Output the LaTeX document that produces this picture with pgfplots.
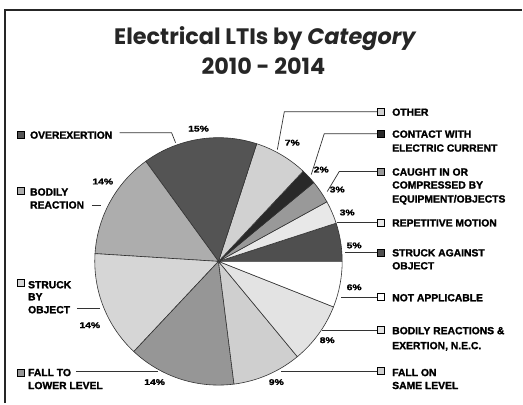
\documentclass[border=0pt]{standalone}
\usepackage{pgfplots}
\pgfplotsset{compat=1.18}
\usepackage{pgfplotstable}
\usepackage{fontspec}
\setmainfont{Liberation Sans}
\newfontfamily\titlefont{Poppins}
\newfontfamily\heavyfont[FakeBold=1.6]{Liberation Sans Bold}

% slices counterclockwise from east: percent and darkness (black!n)
\pgfplotstableread{
pct dark
5  69
3  9
3  40
2  84
7  18
15 67
14 32
14 16
14 41
9  19
8  11
6  0
}\pietable

\newcommand\labelfont{\heavyfont\fontsize{10.4}{13}\selectfont}
\newcommand\pctfont{\heavyfont\fontsize{8.3}{10}\selectfont}
\newcommand\lbl[3]{\node[anchor=base west, font=\labelfont, inner sep=0pt] at (axis cs:#1,#2) {#3};}
\newcommand\pct[3]{\node[font=\pctfont, xscale=1.25, inner sep=0pt] at (axis cs:#1,#2) {#3\%};}
\newcommand\key[3]{\draw[fill=black!#3, draw=black, line width=0.7bp] (axis cs:#1-3.5,#2-3.5) rectangle (axis cs:#1+3.5,#2+3.5);}

\begin{document}
\begin{tikzpicture}
\begin{axis}[
    hide axis,
    scale only axis,
    width=523bp, height=404bp,
    xmin=0, xmax=523, ymin=0, ymax=404,
    y dir=reverse,
    clip=false,
]
\path (axis cs:0,0) rectangle (axis cs:523,404);

% frame
\draw[black!85, line width=2.5bp] (axis cs:5,404) -- (axis cs:5,10) -- (axis cs:523,10);

% title
\node[font=\titlefont\bfseries\fontsize{22.5}{26}\selectfont, anchor=base, text=black!85]
  at (axis cs:266,45) {Electrical LTIs by \textit{Category}};
\node[font=\titlefont\bfseries\fontsize{22.5}{26}\selectfont, anchor=base, text=black!85]
  at (axis cs:264,75) {2010 - 2014};

% pie
\def\angA{0}
\pgfplotsinvokeforeach{0,...,11}{%
  \pgfplotstablegetelem{#1}{pct}\of\pietable \let\pval\pgfplotsretval
  \pgfplotstablegetelem{#1}{dark}\of\pietable \let\pdark\pgfplotsretval
  \pgfmathsetmacro\angB{\angA+3.6*\pval}
  \edef\temp{\noexpand\fill[black!\pdark, draw=black!80, line width=0.6bp]
    (axis cs:219,262) -- ++(\angA:124bp) arc[start angle=\angA, end angle=\angB, radius=124bp] -- cycle;}
  \temp
  \global\let\angA\angB
}

% leader lines
\begin{scope}[black!80, line width=0.7bp]
\draw (axis cs:120,133) -- (axis cs:172,133) -- (axis cs:176,143);
\draw (axis cs:92,206) -- (axis cs:101,206);
\draw (axis cs:77,309) -- (axis cs:100,309);
\draw (axis cs:76,372) -- (axis cs:158,372);
\draw (axis cs:378,112) -- (axis cs:285,112) -- (axis cs:278,150);
\draw (axis cs:378,134) -- (axis cs:325,134) -- (axis cs:312,175);
\draw (axis cs:378,172) -- (axis cs:340,172) -- (axis cs:328,192);
\draw (axis cs:378,223) -- (axis cs:338,223);
\draw (axis cs:378,253) -- (axis cs:346,253);
\draw (axis cs:378,298) -- (axis cs:342,298);
\draw (axis cs:378,331) -- (axis cs:323,331);
\draw (axis cs:378,372) -- (axis cs:282,372);
\end{scope}

% legend keys
\key{21}{135}{67}
\key{21}{191}{32}
\key{21}{284}{16}
\key{21}{374}{41}
\key{382}{112}{18}
\key{382}{134}{84}
\key{382}{172}{40}
\key{382}{223}{9}
\key{382}{253}{69}
\key{382}{298}{0}
\key{382}{331}{11}
\key{382}{372}{19}

% labels
\lbl{30}{139}{OVEREXERTION}
\lbl{30}{196}{BODILY}
\lbl{30}{209}{REACTION}
\lbl{28}{289}{STRUCK}
\lbl{28}{301}{BY}
\lbl{28}{314}{OBJECT}
\lbl{28}{377}{FALL TO}
\lbl{28}{390}{LOWER LEVEL}
\lbl{393}{116}{OTHER}
\lbl{393}{138}{CONTACT WITH}
\lbl{393}{152}{ELECTRIC CURRENT}
\lbl{393}{176}{CAUGHT IN OR}
\lbl{393}{189}{COMPRESSED BY}
\lbl{393}{203}{EQUIPMENT/OBJECTS}
\lbl{393}{227}{REPETITIVE MOTION}
\lbl{393}{257}{STRUCK AGAINST}
\lbl{393}{270}{OBJECT}
\lbl{393}{302}{NOT APPLICABLE}
\lbl{393}{335}{BODILY REACTIONS \&}
\lbl{393}{350}{EXERTION, N.E.C.}
\lbl{393}{377}{FALL ON}
\lbl{393}{390}{SAME LEVEL}

% percentages
\pct{199}{129}{15}
\pct{103}{182}{14}
\pct{90}{326}{14}
\pct{155}{383}{14}
\pct{293}{143}{7}
\pct{322}{170}{2}
\pct{338}{190}{3}
\pct{348}{213}{3}
\pct{355}{246}{5}
\pct{355}{288}{6}
\pct{328}{341}{8}
\pct{277}{383}{9}
\end{axis}
\end{tikzpicture}
\end{document}
